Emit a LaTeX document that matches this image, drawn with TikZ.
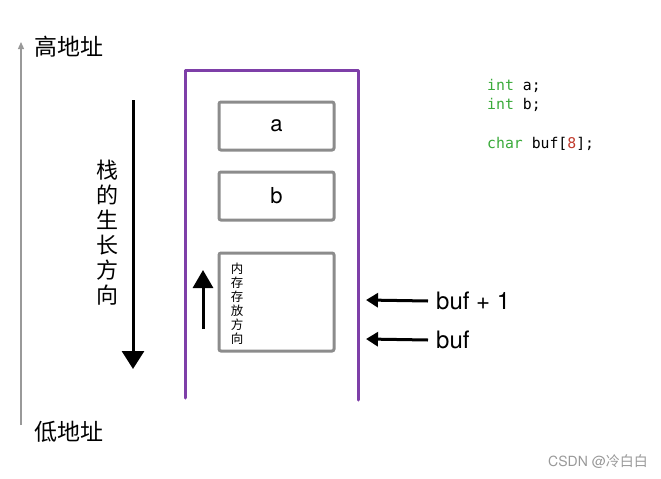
\documentclass[tikz,border=0pt]{standalone}
\usepackage{fontspec}
\setmainfont{TeX Gyre Heros}
\setmonofont{DejaVu Sans Mono}
\newfontfamily\cjk{Noto Sans CJK SC}
\usetikzlibrary{arrows.meta}
\definecolor{purp}{HTML}{7E3FA8}
\definecolor{boxgray}{HTML}{8C8C8C}
\definecolor{codegreen}{HTML}{3AAA3A}
\definecolor{codered}{HTML}{C0392B}
\tikzset{
  membox/.style={draw=boxgray, line width=3pt, rounded corners=2pt, minimum width=115pt, inner sep=0pt},
  cjklabel/.style={font=\cjk\fontsize{23}{25}\selectfont, inner sep=0pt, anchor=west},
  vtext/.style={font=\cjk\fontsize{22}{25}\selectfont, align=center, inner sep=0pt},
  ptrlabel/.style={font=\fontsize{24}{26}\selectfont, inner sep=0pt, anchor=west},
  code/.style={font=\ttfamily\fontsize{14.8}{16}\selectfont, inner sep=0pt, anchor=west},
  blackarrow/.style={line width=3pt, -{Triangle[width=14pt,length=12pt]}},
}
\begin{document}
\begin{tikzpicture}[x=1pt,y=-1pt]
\useasboundingbox (0,0) rectangle (661,479);
% address axis
\coordinate (axbot) at (21,425);
\coordinate (axtop) at (21,42);
\draw[draw=gray!80, line width=1.2pt, -{Triangle[width=6pt,length=7pt]}] (axbot) -- (axtop);
\node[cjklabel] (high) at (34,47) {高地址};
\node[cjklabel] (low) at (34,432) {低地址};
% purple frame
\coordinate (fl) at (185,398);
\coordinate (ftl) at (185,70);
\coordinate (ftr) at (358,70);
\coordinate (fr) at (358,400);
\draw[purp, line width=3pt, line cap=round, line join=round] (fl) -- (ftl) -- (ftr) -- (fr);
% memory boxes
\node[membox, minimum height=48pt, font=\fontsize{22}{24}\selectfont] (boxa) at (276.5,126) {a};
\node[membox, minimum height=48pt, font=\fontsize{22}{24}\selectfont] (boxb) at (276.5,196) {b};
\node[membox, minimum height=98pt] (boxbuf) at (276.5,302) {};
\node[font=\cjk\fontsize{12.5}{14}\selectfont, align=center, inner sep=0pt] (dir) at (237,303.5) {内\\存\\存\\放\\方\\向};
% up arrow inside frame
\coordinate (upbot) at (203,329);
\coordinate (uptop) at (203,270);
\draw[line width=3pt, -{Triangle[width=20pt,length=18pt]}] (upbot) -- (uptop);
% stack growth arrow
\coordinate (stop) at (133,100);
\coordinate (sbot) at (133,369);
\draw[line width=3pt, -{Triangle[width=22pt,length=18pt]}] (stop) -- (sbot);
\node[vtext] (grow) at (107,233) {栈\\的\\生\\长\\方\\向};
% pointer arrows
\node[ptrlabel] (buf1) at (436,301) {buf + 1};
\node[ptrlabel] (buf) at (436,340) {buf};
\coordinate (p1) at (366,300);
\coordinate (p0) at (366,339);
\draw[blackarrow] (buf1.west) ++(-8,0) coordinate (s1) (s1) -- (p1);
\draw[blackarrow] (buf.west) ++(-8,0) coordinate (s0) (s0) -- (p0);
% code
\node[code] (c1) at (487,86) {\textcolor{codegreen}{int} a;};
\node[code] (c2) at (487,105) {\textcolor{codegreen}{int} b;};
\node[code] (c3) at (487,144) {\textcolor{codegreen}{char} buf[\textcolor{codered}{8}];};
% watermark
\node[font=\fontsize{14}{16}\selectfont, text=gray!80, inner sep=0pt, anchor=west] (wm) at (548,462) {CSDN @{\cjk 冷白白}};
\end{tikzpicture}
\end{document}
